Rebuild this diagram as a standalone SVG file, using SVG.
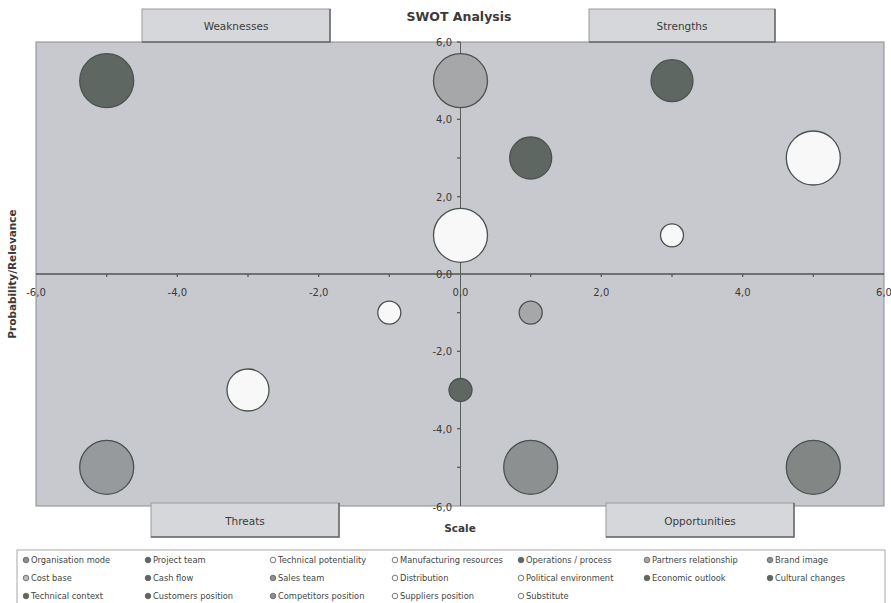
<svg xmlns="http://www.w3.org/2000/svg" width="891" height="603" viewBox="0 0 891 603">
<style>
  text { font-family: "DejaVu Sans", "Liberation Sans", Arial, sans-serif; fill: #3a3a3a; }
  .title { font-size: 12.5px; font-weight: bold; }
  .axt { font-size: 10.5px; font-weight: bold; }
  .tick { font-size: 10px; fill: #3c3c3c; }
  .ql { font-size: 10.5px; fill: #3c3c3c; }
  .lg { font-size: 8.3px; fill: #454545; }
  .qbox { fill: #d6d7da; stroke: #9a9a9a; stroke-width: 1; }
  .qsh { fill: none; stroke: #6a6a6a; stroke-width: 1.5; }
  .b { stroke: #4a524d; stroke-width: 1.3; }
  .dk { fill: #5e6762; }
  .md { fill: #a5a7a9; }
  .md2 { fill: #8c9091; }
  .wt { fill: #f8f8f8; }
  .lb { stroke: #5a605c; stroke-width: 0.8; }
</style>

<!-- plot area -->
<g id="plot">
  <rect x="36" y="42" width="848" height="464" fill="#c7c9ce" stroke="#8a8c90" stroke-width="1"/>
</g>

<!-- axes -->
<g id="connectors">
  <line x1="36" y1="274" x2="884" y2="274" stroke="#4e5552" stroke-width="1.6"/>
  <line x1="460.5" y1="42" x2="460.5" y2="506" stroke="#5a605c" stroke-width="1"/>
  <g stroke="#4e5552" stroke-width="1.2">
    <line x1="106.7" y1="274" x2="106.7" y2="277"/>
    <line x1="177.3" y1="274" x2="177.3" y2="277"/>
    <line x1="248" y1="274" x2="248" y2="277"/>
    <line x1="318.7" y1="274" x2="318.7" y2="277"/>
    <line x1="389.3" y1="274" x2="389.3" y2="277"/>
    <line x1="530.7" y1="274" x2="530.7" y2="277"/>
    <line x1="601.3" y1="274" x2="601.3" y2="277"/>
    <line x1="672" y1="274" x2="672" y2="277"/>
    <line x1="742.7" y1="274" x2="742.7" y2="277"/>
    <line x1="813.3" y1="274" x2="813.3" y2="277"/>
    <line x1="457" y1="42" x2="460.5" y2="42"/>
    <line x1="457" y1="80.7" x2="460.5" y2="80.7"/>
    <line x1="457" y1="119.3" x2="460.5" y2="119.3"/>
    <line x1="457" y1="158" x2="460.5" y2="158"/>
    <line x1="457" y1="196.7" x2="460.5" y2="196.7"/>
    <line x1="457" y1="235.3" x2="460.5" y2="235.3"/>
    <line x1="457" y1="312.7" x2="460.5" y2="312.7"/>
    <line x1="457" y1="351.3" x2="460.5" y2="351.3"/>
    <line x1="457" y1="390" x2="460.5" y2="390"/>
    <line x1="457" y1="428.7" x2="460.5" y2="428.7"/>
    <line x1="457" y1="467.3" x2="460.5" y2="467.3"/>
  </g>
</g>

<!-- tick labels -->
<g id="xlabels" class="tick" text-anchor="middle">
  <text x="36" y="296">-6,0</text>
  <text x="177.3" y="296">-4,0</text>
  <text x="318.7" y="296">-2,0</text>
  <text x="460.5" y="296">0,0</text>
  <text x="601.3" y="296">2,0</text>
  <text x="742.7" y="296">4,0</text>
  <text x="884" y="296">6,0</text>
</g>
<g id="ylabels" class="tick" text-anchor="end">
  <text x="452" y="46">6,0</text>
  <text x="452" y="123">4,0</text>
  <text x="452" y="200.5">2,0</text>
  <text x="452" y="278">0,0</text>
  <text x="452" y="355">-2,0</text>
  <text x="452" y="432.5">-4,0</text>
  <text x="452" y="511">-6,0</text>
</g>

<!-- titles -->
<g id="title">
  <text class="title" x="459" y="21" text-anchor="middle">SWOT Analysis</text>
</g>
<g id="xaxis-title">
  <text class="axt" x="460" y="532" text-anchor="middle">Scale</text>
</g>
<g id="yaxis-title">
  <text class="axt" x="0" y="0" text-anchor="middle" transform="translate(16,274) rotate(-90)">Probability/Relevance</text>
</g>

<!-- quadrant labels -->
<g id="weaknesses">
  <rect class="qbox" x="142" y="9" width="188" height="33"/>
  <polyline class="qsh" points="330,9 330,42 142,42"/>
  <text class="ql" x="236" y="30" text-anchor="middle">Weaknesses</text>
</g>
<g id="strengths">
  <rect class="qbox" x="589" y="9" width="186" height="33"/>
  <polyline class="qsh" points="775,9 775,42 589,42"/>
  <text class="ql" x="682" y="30" text-anchor="middle">Strengths</text>
</g>
<g id="threats">
  <rect class="qbox" x="151" y="503" width="188" height="34"/>
  <polyline class="qsh" points="339,503 339,537 151,537"/>
  <text class="ql" x="245" y="525" text-anchor="middle">Threats</text>
</g>
<g id="opportunities">
  <rect class="qbox" x="606" y="503" width="188" height="34"/>
  <polyline class="qsh" points="794,503 794,537 606,537"/>
  <text class="ql" x="700" y="525" text-anchor="middle">Opportunities</text>
</g>

<!-- bubbles -->
<g id="bubbles">
  <circle class="b dk" cx="106.7" cy="80.7" r="27"/>
  <circle class="b md" cx="460.5" cy="80.7" r="27"/>
  <circle class="b dk" cx="672" cy="80.7" r="21"/>
  <circle class="b dk" cx="530.7" cy="158" r="21"/>
  <circle class="b wt" cx="813.3" cy="158" r="27"/>
  <circle class="b wt" cx="460.5" cy="235.3" r="27"/>
  <circle class="b wt" cx="672" cy="235.3" r="11.5"/>
  <circle class="b wt" cx="389.3" cy="312.7" r="11.5"/>
  <circle class="b md" cx="530.7" cy="312.7" r="11.5"/>
  <circle class="b wt" cx="248" cy="390" r="21"/>
  <circle class="b dk" cx="460.5" cy="390" r="11.5"/>
  <circle class="b" cx="106.7" cy="467.3" r="27" fill="#979a9c"/>
  <circle class="b md2" cx="530.7" cy="467.3" r="27"/>
  <circle class="b" cx="813.3" cy="467.3" r="27" fill="#828786"/>
</g>

<!-- legend -->
<g id="legend">
  <rect x="17" y="550" width="868" height="60" fill="#ffffff" stroke="#a8a8a8" stroke-width="1"/>
  <g>
    <circle class="lb md2" cx="26" cy="560" r="2.8"/><text class="lg" x="31" y="563">Organisation mode</text>
    <circle class="lb dk" cx="148" cy="560" r="2.8"/><text class="lg" x="153" y="563">Project team</text>
    <circle class="lb wt" cx="273" cy="560" r="2.8"/><text class="lg" x="278" y="563">Technical potentiality</text>
    <circle class="lb wt" cx="395" cy="560" r="2.8"/><text class="lg" x="400" y="563">Manufacturing resources</text>
    <circle class="lb dk" cx="521" cy="560" r="2.8"/><text class="lg" x="526" y="563">Operations / process</text>
    <circle class="lb md" cx="647" cy="560" r="2.8"/><text class="lg" x="652" y="563">Partners relationship</text>
    <circle class="lb md2" cx="770" cy="560" r="2.8"/><text class="lg" x="775" y="563">Brand image</text>

    <circle class="lb" fill="#bbbcbd" cx="26" cy="578" r="2.8"/><text class="lg" x="31" y="581">Cost base</text>
    <circle class="lb dk" cx="148" cy="578" r="2.8"/><text class="lg" x="153" y="581">Cash flow</text>
    <circle class="lb md2" cx="273" cy="578" r="2.8"/><text class="lg" x="278" y="581">Sales team</text>
    <circle class="lb wt" cx="395" cy="578" r="2.8"/><text class="lg" x="400" y="581">Distribution</text>
    <circle class="lb wt" cx="521" cy="578" r="2.8"/><text class="lg" x="526" y="581">Political environment</text>
    <circle class="lb dk" cx="647" cy="578" r="2.8"/><text class="lg" x="652" y="581">Economic outlook</text>
    <circle class="lb dk" cx="770" cy="578" r="2.8"/><text class="lg" x="775" y="581">Cultural changes</text>

    <circle class="lb dk" cx="26" cy="596" r="2.8"/><text class="lg" x="31" y="599">Technical context</text>
    <circle class="lb dk" cx="148" cy="596" r="2.8"/><text class="lg" x="153" y="599">Customers position</text>
    <circle class="lb md2" cx="273" cy="596" r="2.8"/><text class="lg" x="278" y="599">Competitors position</text>
    <circle class="lb wt" cx="395" cy="596" r="2.8"/><text class="lg" x="400" y="599">Suppliers position</text>
    <circle class="lb wt" cx="521" cy="596" r="2.8"/><text class="lg" x="526" y="599">Substitute</text>
  </g>
</g>
</svg>
